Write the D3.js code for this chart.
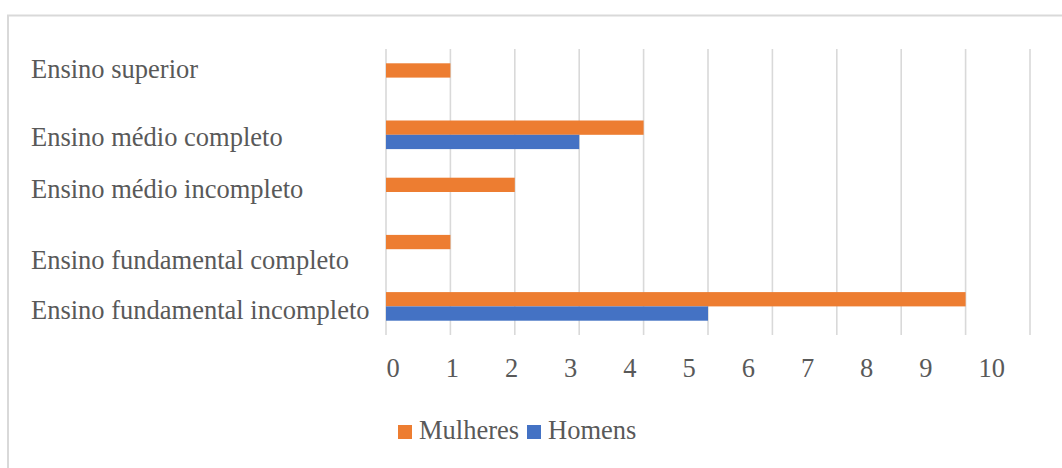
<!DOCTYPE html>
<html>
<head>
<meta charset="utf-8">
<script src="https://cdn.jsdelivr.net/npm/d3@7"></script>
<style>
  html, body { margin: 0; padding: 0; background: #ffffff; }
  svg { display: block; }
  text { font-family: "Liberation Serif", "Times New Roman", serif; fill: #595959; }
</style>
</head>
<body>
<svg id="chart" width="1062" height="468"></svg>
<script>
// Escolaridade por sexo
const categories = [
  "Ensino superior",
  "Ensino médio completo",
  "Ensino médio incompleto",
  "Ensino fundamental completo",
  "Ensino fundamental incompleto"
];
const seriesNames = ["Mulheres", "Homens"];
const mulheres = [1, 4, 2, 1, 9];
const homens   = [0, 3, 0, 0, 5];
const tickValues = [0, 1, 2, 3, 4, 5, 6, 7, 8, 9, 10];

const colors = { Mulheres: "#ED7D31", Homens: "#4472C4" };
const seriesValues = { Mulheres: mulheres, Homens: homens };

// Layout
const plot = { left: 386, right: 1030, top: 49, bottom: 335 };
const labelBaselineShift = [0, 11, 6, 20, 12.5];
const fontSize = 26.5;

const svg = d3.select("#chart");

// Outer frame
svg.append("rect")
  .attr("x", 8).attr("y", 15.5)
  .attr("width", 1070).attr("height", 470)
  .attr("fill", "none")
  .attr("stroke", "#d9d9d9")
  .attr("stroke-width", 2);

const x = d3.scaleLinear().domain([0, 10]).range([plot.left, plot.right]);
const y = d3.scaleBand().domain(categories)
  .range([plot.top, plot.bottom])
  .paddingInner(0.5).paddingOuter(0.25);
const ySub = d3.scaleBand().domain(seriesNames).range([0, y.bandwidth()]);

// Vertical gridlines
svg.append("g").selectAll("line")
  .data(tickValues)
  .join("line")
  .attr("x1", d => x(d)).attr("x2", d => x(d))
  .attr("y1", plot.top).attr("y2", plot.bottom)
  .attr("stroke", "#d9d9d9")
  .attr("stroke-width", 1.6);

// Bars
const rows = categories.map((c, i) => ({ c, i }));
const groups = svg.append("g").selectAll("g")
  .data(rows)
  .join("g")
  .attr("transform", d => `translate(0,${y(d.c)})`);

groups.selectAll("rect")
  .data(d => seriesNames.map(s => ({ s, v: seriesValues[s][d.i] })).filter(e => e.v > 0))
  .join("rect")
  .attr("x", x(0))
  .attr("y", d => ySub(d.s))
  .attr("width", d => x(d.v) - x(0))
  .attr("height", ySub.bandwidth())
  .attr("fill", d => colors[d.s]);

// Category labels
svg.append("g").selectAll("text")
  .data(rows)
  .join("text")
  .attr("x", 31)
  .attr("y", d => y(d.c) + y.bandwidth() / 2 + labelBaselineShift[d.i])
  .attr("font-size", fontSize)
  .text(d => d.c);

// Value axis labels (left-aligned, on their own spacing)
const xLabels = d3.scaleLinear().domain([0, 10]).range([386, 978]);
const axis = svg.append("g")
  .attr("transform", "translate(0,356)")
  .call(d3.axisBottom(xLabels).tickValues(tickValues).tickSize(0).tickPadding(0).tickFormat(d3.format("d")));
axis.select(".domain").remove();
axis.selectAll("text")
  .attr("font-size", fontSize)
  .attr("font-family", "Liberation Serif, Times New Roman, serif")
  .attr("fill", "#595959")
  .attr("text-anchor", "start")
  .attr("dy", "0.8em");

// Legend
const legend = svg.append("g");
const legendItems = [
  { s: "Mulheres", x: 398 },
  { s: "Homens", x: 527 }
];
legendItems.forEach(item => {
  legend.append("rect")
    .attr("x", item.x).attr("y", 425)
    .attr("width", 14).attr("height", 14)
    .attr("fill", colors[item.s]);
  legend.append("text")
    .attr("x", item.x + 21).attr("y", 438.5)
    .attr("font-size", fontSize)
    .text(item.s);
});
</script>
</body>
</html>
